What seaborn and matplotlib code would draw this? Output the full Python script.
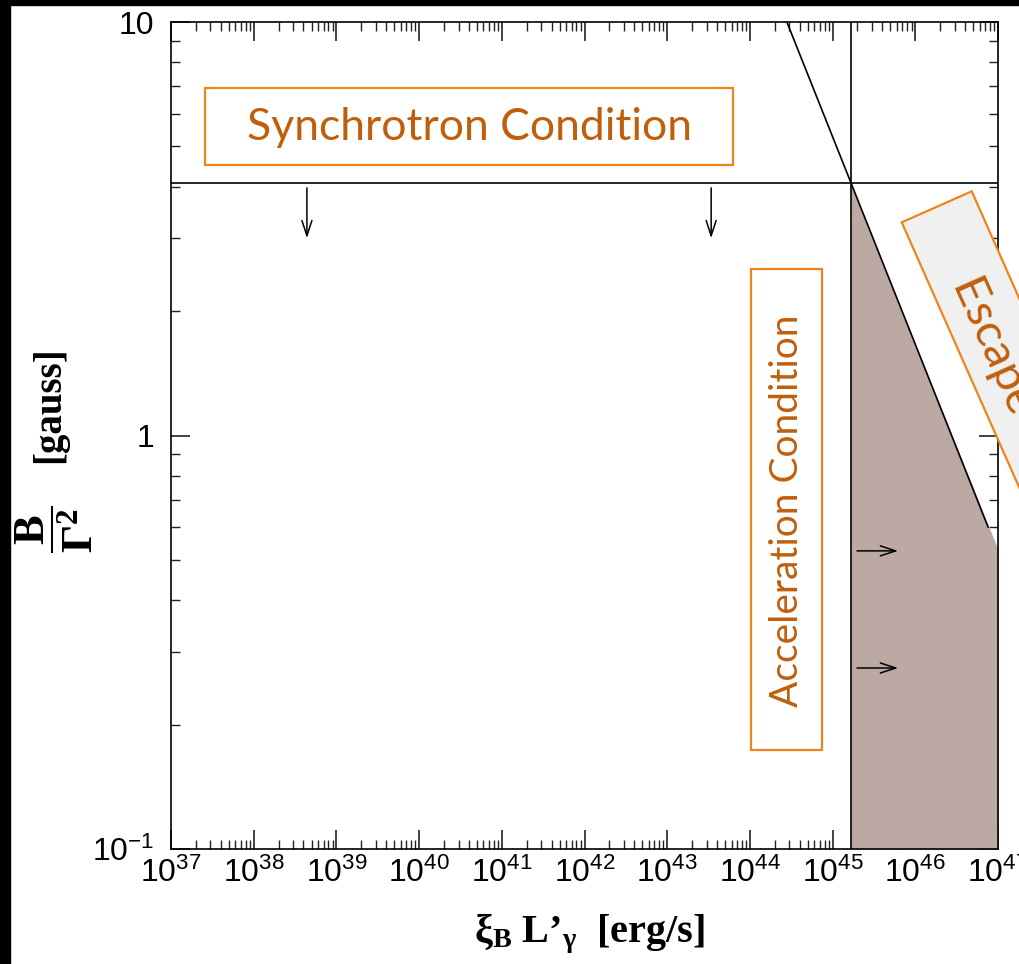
import numpy as np
import pandas as pd
import matplotlib
matplotlib.use("Agg")
import matplotlib.pyplot as plt
import seaborn as sns
from matplotlib.patches import Rectangle
from matplotlib.ticker import LogLocator, NullFormatter, FixedLocator

# ---------------- data ----------------
x_tick_values = [1e37, 1e38, 1e39, 1e40, 1e41, 1e42, 1e43, 1e44, 1e45, 1e46, 1e47]
y_tick_values = [0.1, 1.0, 10.0]
y_tick_labels = [r"$\mathdefault{10^{-1}}$", "1", "10"]

acceleration_L = 1.66e45          # vertical boundary (erg/s)
synchrotron_B = 4.08              # horizontal boundary (gauss)

escape_L = [2.8e44, 7.6e46]       # escape-condition line
escape_B = [10.0, 0.60]

region_L = [1.66e45, 1.0e47]      # allowed (shaded) region
region_B_top = [4.08, 0.53]
region_B_bottom = [0.1, 0.1]

arrow_down_L = [4.4e38, 3.4e43]
arrow_down_B_start = [3.97, 3.97]
arrow_down_B_end = [3.0, 3.0]

arrow_right_B = [0.526, 0.274]
arrow_right_L_start = [1.97e45, 1.97e45]
arrow_right_L_end = [6.2e45, 6.2e45]

# ---------------- style ----------------
sns.set_theme(style="ticks")
plt.rcParams["font.family"] = ["Liberation Sans", "DejaVu Sans"]
plt.rcParams["mathtext.fontset"] = "custom"
plt.rcParams["mathtext.rm"] = "Liberation Serif"
plt.rcParams["mathtext.bf"] = "Liberation Serif:bold"
plt.rcParams["mathtext.it"] = "Liberation Serif:italic"

W, H, DPI = 1020, 964, 100
fig = plt.figure(figsize=(W / DPI, H / DPI), dpi=DPI, facecolor="white")
ax = fig.add_axes([171 / W, 1 - 849 / H, (998 - 171) / W, (849 - 22) / H])
ax.set_facecolor("white")
ax.set(xscale="log", yscale="log")
ax.set_xlim(1e37, 1e47)
ax.set_ylim(0.1, 10)

# shaded region
ax.fill_between(region_L, region_B_bottom, region_B_top, color="#bca9a4", lw=0, zorder=1)

# boundaries
ax.axhline(synchrotron_B, color="black", lw=1.2, zorder=2)
ax.axvline(acceleration_L, color="black", lw=1.2, zorder=2)
line_df = pd.DataFrame({"L": escape_L, "B": escape_B})
sns.lineplot(data=line_df, x="L", y="B", ax=ax, color="black", lw=1.2, zorder=2, estimator=None)

# arrows
arrow_kw = dict(arrowstyle="->,head_length=0.55,head_width=0.18", color="black", lw=1.1,
                shrinkA=0, shrinkB=0, mutation_scale=20)
for L, b0, b1 in zip(arrow_down_L, arrow_down_B_start, arrow_down_B_end):
    ax.annotate("", xy=(L, b1), xytext=(L, b0), arrowprops=arrow_kw, zorder=3)
for B, l0, l1 in zip(arrow_right_B, arrow_right_L_start, arrow_right_L_end):
    ax.annotate("", xy=(l1, B), xytext=(l0, B), arrowprops=arrow_kw, zorder=3)

# ticks
ax.xaxis.set_major_locator(FixedLocator(x_tick_values))
ax.xaxis.set_minor_locator(LogLocator(base=10, subs=np.arange(2, 10), numticks=200))
ax.xaxis.set_minor_formatter(NullFormatter())
ax.set_yticks(y_tick_values, labels=y_tick_labels)
ax.yaxis.set_minor_locator(LogLocator(base=10, subs=np.arange(2, 10), numticks=200))
ax.yaxis.set_minor_formatter(NullFormatter())
ax.tick_params(which="both", direction="in", top=True, right=True, color="#222222")
ax.tick_params(which="major", length=14, width=1.2)
ax.tick_params(which="minor", length=6.5, width=1.0)
ax.tick_params(axis="x", which="major", pad=6, labelsize=23)
ax.tick_params(axis="y", which="major", pad=12, labelsize=23)
for lab in ax.get_xticklabels() + ax.get_yticklabels():
    lab.set_fontfamily("Liberation Sans")
    lab.set_color("black")
for sp in ax.spines.values():
    sp.set_color("black")
    sp.set_linewidth(1.2)

# axis labels
ax.set_xlabel(r"$\mathbf{\xi_{B}\ L’_{\gamma}}$  [erg/s]", fontsize=29,
              fontfamily="Liberation Serif", fontweight="bold", color="black")
ax.xaxis.set_label_coords((590 - 171) / 827, (849 - 934) / 827)
ax.xaxis.label.set_va("center")
ax.set_ylabel(r"$\mathbf{\dfrac{B}{\Gamma^{2}}}$", fontsize=32,
              fontfamily="Liberation Serif", fontweight="bold", color="black")
ax.yaxis.set_label_coords((54 - 171) / 827, (849 - 529) / 827)
ax.yaxis.label.set_va("center")
ax.text((50 - 171) / 827, (849 - 405) / 827, "[gauss]", transform=ax.transAxes,
        rotation=90, ha="center", va="center", fontsize=28,
        fontfamily="Liberation Serif", fontweight="bold", color="black")

# ---------------- annotation boxes (figure pixel layout) ----------------
tr = fig.dpi_scale_trans
edge = "#f0841c"
txtc = "#bf5f0c"


def px(x, y):
    return x / DPI, (H - y) / DPI


# Synchrotron box
fig.add_artist(Rectangle(px(205, 165), 528 / DPI, 77 / DPI, transform=tr,
                         facecolor="white", edgecolor=edge, lw=1.6, zorder=5))
fig.text(*px(469, 128), "Synchrotron Condition", transform=tr, ha="center", va="center",
         fontsize=32, fontfamily="Lato", color=txtc, zorder=6)

# Acceleration box
fig.add_artist(Rectangle(px(751, 750), 71 / DPI, 481 / DPI, transform=tr,
                         facecolor="white", edgecolor=edge, lw=1.6, zorder=5))
fig.text(*px(787, 511), "Acceleration Condition", transform=tr, ha="center", va="center",
         rotation=90, fontsize=28, fontfamily="Lato", color=txtc, zorder=6)

# Escape box (rotated)
fig.add_artist(Rectangle(px(1097, 663), 76.6 / DPI, 482 / DPI, angle=23.9, transform=tr,
                         facecolor="#f0f0f0", edgecolor=edge, lw=1.6, zorder=5))
fig.text(*px(1037, 444), "Escape Condition", transform=tr, ha="center", va="center",
         rotation=-66.1, rotation_mode="anchor", fontsize=34, fontfamily="Lato",
         color=txtc, zorder=6)

# black screenshot borders
fig.add_artist(Rectangle((0, 0), 10 / W, 1, transform=fig.transFigure, color="black", zorder=10))
fig.add_artist(Rectangle((0, 1 - 5 / H), 1, 5 / H, transform=fig.transFigure, color="black", zorder=10))

fig.savefig("out.png", dpi=DPI, facecolor="white")
